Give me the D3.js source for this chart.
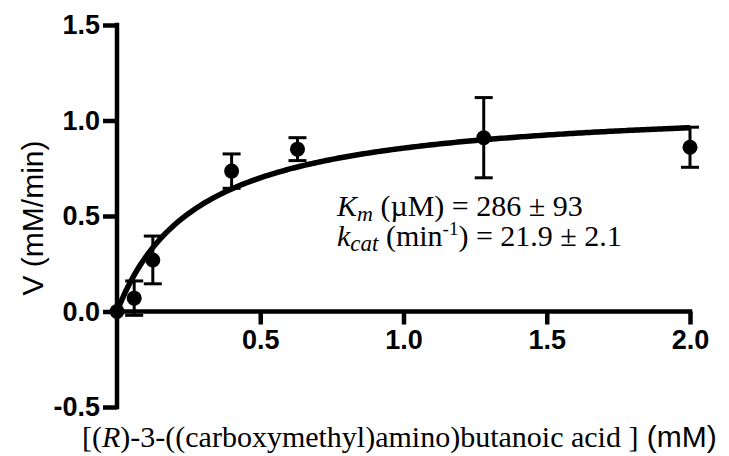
<!DOCTYPE html>
<html>
<head>
<meta charset="utf-8">
<script src="https://cdn.jsdelivr.net/npm/d3@7"></script>
<style>
  body { margin: 0; background: #fff; }
  svg { display: block; }
  .tick text { font-family: "Liberation Sans", Arial, sans-serif; font-weight: bold; font-size: 27px; fill: #000; }
</style>
</head>
<body>
<svg width="729" height="456"></svg>
<script>
// substrate concentration (mM), measured velocity (mM/min) and SD
const substrate = [0, 0.06, 0.125, 0.4, 0.63, 1.28, 2.0];
const velocity  = [0, 0.07, 0.27, 0.735, 0.85, 0.91, 0.86];
const errors    = [0, 0.09, 0.125, 0.09, 0.06, 0.21, 0.105];

const xTicks = [0.5, 1.0, 1.5, 2.0];
const yTicks = [-0.5, 0.0, 0.5, 1.0, 1.5];

// Michaelis-Menten fit parameters
const Km = 0.286;   // mM
const Vmax = 1.10;  // mM/min

const data = substrate.map((s, i) => ({ s: s, v: velocity[i], e: errors[i] }));

const svg = d3.select('svg');

const x = d3.scaleLinear().domain([0, 2]).range([117, 690]);
const y = d3.scaleLinear().domain([-0.5, 1.5]).range([407, 25]);

const lw = 4.5;
const fmt = d => d.toFixed(1);

// y axis
const yAxis = svg.append('g')
  .attr('transform', `translate(${x(0)},0)`)
  .call(d3.axisLeft(y).tickValues(yTicks).tickFormat(fmt).tickSize(14).tickSizeOuter(0).tickPadding(3));

// x axis
const xAxis = svg.append('g')
  .attr('transform', `translate(0,${y(0)})`)
  .call(d3.axisBottom(x).tickValues(xTicks).tickFormat(fmt).tickSize(13).tickSizeOuter(0).tickPadding(5));

[yAxis, xAxis].forEach(g => {
  g.select('.domain').attr('stroke', '#000').attr('stroke-width', lw);
  g.selectAll('.tick line').attr('stroke', '#000').attr('stroke-width', lw);
});
yAxis.select('.domain').attr('d', `M0,${y(-0.5) + lw / 2}V${y(1.5) - lw / 2}`);
xAxis.select('.domain').attr('d', `M${x(0)},0H${x(2) + lw / 2}`);

// fitted curve
const fit = d3.range(0, 2.0001, 0.01).map(s => ({ s: s, v: Vmax * s / (Km + s) }));
svg.append('path')
  .datum(fit)
  .attr('fill', 'none')
  .attr('stroke', '#000')
  .attr('stroke-width', 5.5)
  .attr('d', d3.line().x(d => x(d.s)).y(d => y(d.v)));

// error bars
const bars = svg.append('g').selectAll('g')
  .data(data.filter(d => d.e > 0))
  .enter().append('g')
  .attr('stroke', '#000')
  .attr('stroke-width', 3);

bars.append('line')
  .attr('x1', d => x(d.s)).attr('x2', d => x(d.s))
  .attr('y1', d => y(d.v - d.e)).attr('y2', d => y(d.v + d.e));
bars.append('line')
  .attr('x1', d => x(d.s) - 9).attr('x2', d => x(d.s) + 9)
  .attr('y1', d => y(d.v + d.e)).attr('y2', d => y(d.v + d.e));
bars.append('line')
  .attr('x1', d => x(d.s) - 9).attr('x2', d => x(d.s) + 9)
  .attr('y1', d => y(d.v - d.e)).attr('y2', d => y(d.v - d.e));

// points
svg.append('g').selectAll('circle')
  .data(data)
  .enter().append('circle')
  .attr('cx', d => x(d.s))
  .attr('cy', d => y(d.v))
  .attr('r', 7.5)
  .attr('fill', '#000');

// axis titles
svg.append('text')
  .attr('transform', 'translate(43,218) rotate(-90)')
  .attr('text-anchor', 'middle')
  .style('font-family', '"Liberation Sans", Arial, sans-serif')
  .style('font-size', '30px')
  .text('V (mM/min)');

const xt = svg.append('text')
  .attr('x', 82)
  .attr('y', 447)
  .style('font-family', '"Liberation Serif", "Times New Roman", serif')
  .style('font-size', '30px');
xt.append('tspan').text('[(');
xt.append('tspan').style('font-style', 'italic').text('R');
xt.append('tspan').text(')-3-((carboxymethyl)amino)butanoic acid ]');
xt.append('tspan').style('font-family', '"Liberation Sans", Arial, sans-serif').text(' (mM)');

// fit annotation
const serif = '"Liberation Serif", "Times New Roman", serif';
const t1 = svg.append('text').attr('x', 337).attr('y', 216)
  .style('font-family', serif).style('font-size', '30px');
t1.append('tspan').style('font-style', 'italic').text('K');
t1.append('tspan').style('font-style', 'italic').style('font-size', '22px').attr('dy', 5).text('m');
t1.append('tspan').attr('dy', -5).text(' (\u00b5M) = 286 \u00b1 93');

const t2 = svg.append('text').attr('x', 337).attr('y', 246)
  .style('font-family', serif).style('font-size', '30px');
t2.append('tspan').style('font-style', 'italic').text('k');
t2.append('tspan').style('font-style', 'italic').style('font-size', '23px').attr('dy', 5).text('cat');
t2.append('tspan').attr('dy', -5).text(' (min');
t2.append('tspan').style('font-size', '19px').attr('dy', -11).text('-1');
t2.append('tspan').attr('dy', 11).text(') = 21.9 \u00b1 2.1');
</script>
</body>
</html>
